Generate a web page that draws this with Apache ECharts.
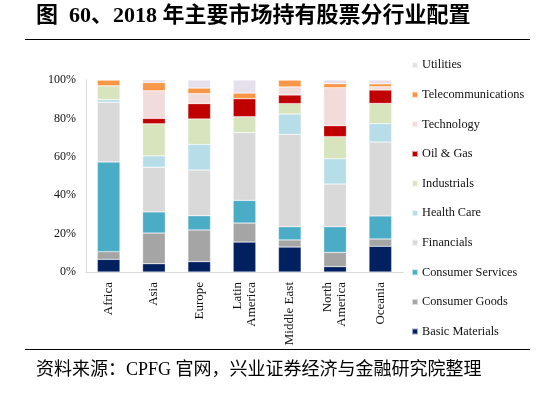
<!DOCTYPE html>
<html>
<head>
<meta charset="utf-8">
<script src="https://cdn.jsdelivr.net/npm/echarts@6/dist/echarts.min.js"></script>
<style>
  html, body { margin: 0; padding: 0; background: #fff; }
  #chart { width: 541px; height: 397px; }
</style>
</head>
<body>
<div id="chart"></div>
<script>
// 地区
var regions = ['Africa', 'Asia', 'Europe', 'Latin\nAmerica', 'Middle East', 'North\nAmerica', 'Oceania'];
// 各行业占比 (%)
var basicMaterials   = [6.6, 4.3, 5.4, 15.6, 13.0, 2.8, 13.4];
var consumerGoods    = [4.0, 16.0, 16.5, 9.9, 3.7, 7.4, 3.8];
var consumerServices = [46.7, 11.0, 7.4, 11.8, 6.9, 13.4, 12.0];
var financials       = [31.1, 23.3, 23.8, 35.3, 48.1, 22.2, 38.5];
var healthCare       = [1.4, 5.9, 13.4, 0, 10.6, 13.2, 9.6];
var industrials      = [7.2, 16.7, 13.2, 8.3, 5.4, 11.5, 10.5];
var oilGas           = [0, 2.8, 8.0, 9.4, 4.5, 5.7, 7.0];
var technology       = [0, 14.4, 5.2, 0, 4.2, 19.8, 1.7];
var telecom          = [3.0, 4.3, 2.9, 2.9, 3.6, 2.1, 1.5];
var utilities        = [0, 1.4, 4.2, 6.8, 0, 1.9, 2.0];

var seriesNames = ['Basic Materials', 'Consumer Goods', 'Consumer Services', 'Financials', 'Health Care',
                   'Industrials', 'Oil & Gas', 'Technology', 'Telecommunications', 'Utilities'];
var seriesData = [basicMaterials, consumerGoods, consumerServices, financials, healthCare,
                  industrials, oilGas, technology, telecom, utilities];
var colors = ['#002060', '#a5a5a5', '#4bacc6', '#d9d9d9', '#b7dee8',
              '#d7e4bd', '#c00000', '#f2dcdb', '#f79646', '#e6e0ec'];

var serif = '"Liberation Serif", "Noto Sans CJK SC", serif';

var myChart = echarts.init(document.getElementById('chart'));

var series = [];
for (var i = 0; i < seriesNames.length; i++) {
    series.push({
        name: seriesNames[i],
        type: 'bar',
        stack: 'total',
        barWidth: '50%',
        data: seriesData[i],
        itemStyle: { color: colors[i], borderColor: 'rgba(255,255,255,0.6)', borderWidth: 0.5 }
    });
}

var option = {
    animation: false,
    color: colors,
    textStyle: { fontFamily: serif },
    grid: { left: 86, right: 138, top: 80, bottom: 125 },
    legend: {
        orient: 'vertical',
        left: 411,
        top: 59,
        padding: 0,
        itemWidth: 6,
        itemHeight: 6,
        itemGap: 17.3,
        icon: 'rect',
        data: seriesNames.slice().reverse(),
        textStyle: { fontFamily: serif, fontSize: 12.3, color: '#111', padding: [0, 0, 0, -1] }
    },
    xAxis: {
        type: 'category',
        data: regions,
        axisLine: { lineStyle: { color: '#d9d9d9', width: 1 } },
        axisTick: { show: false },
        axisLabel: {
            rotate: 90,
            interval: 0,
            margin: 10,
            fontFamily: serif,
            fontSize: 13,
            color: '#111',
            lineHeight: 14
        }
    },
    yAxis: {
        type: 'value',
        min: 0,
        max: 100,
        interval: 20,
        splitLine: { show: false },
        axisLine: { show: true, lineStyle: { color: '#d9d9d9' } },
        axisTick: { show: false },
        axisLabel: {
            formatter: '{value}%',
            fontFamily: serif,
            fontSize: 12,
            color: '#111',
            margin: 10
        }
    },
    graphic: [
        {
            type: 'text', left: 36, top: 5,
            style: {
                text: '图  60、2018 年主要市场持有股票分行业配置',
                font: 'bold 22px "Liberation Serif", "Noto Sans CJK SC", serif',
                fill: '#000'
            }
        },
        {
            type: 'line',
            shape: { x1: 25, y1: 39.5, x2: 530, y2: 39.5 },
            style: { stroke: '#000', lineWidth: 1 }
        },
        {
            type: 'line',
            shape: { x1: 25, y1: 349.5, x2: 530, y2: 349.5 },
            style: { stroke: '#000', lineWidth: 1 }
        },
        {
            type: 'text', left: 36, top: 361,
            style: {
                text: '资料来源：CPFG 官网，兴业证券经济与金融研究院整理',
                font: '18px "Liberation Serif", "Noto Sans CJK SC", serif',
                fill: '#000'
            }
        }
    ],
    series: series
};

myChart.setOption(option);
</script>
</body>
</html>
